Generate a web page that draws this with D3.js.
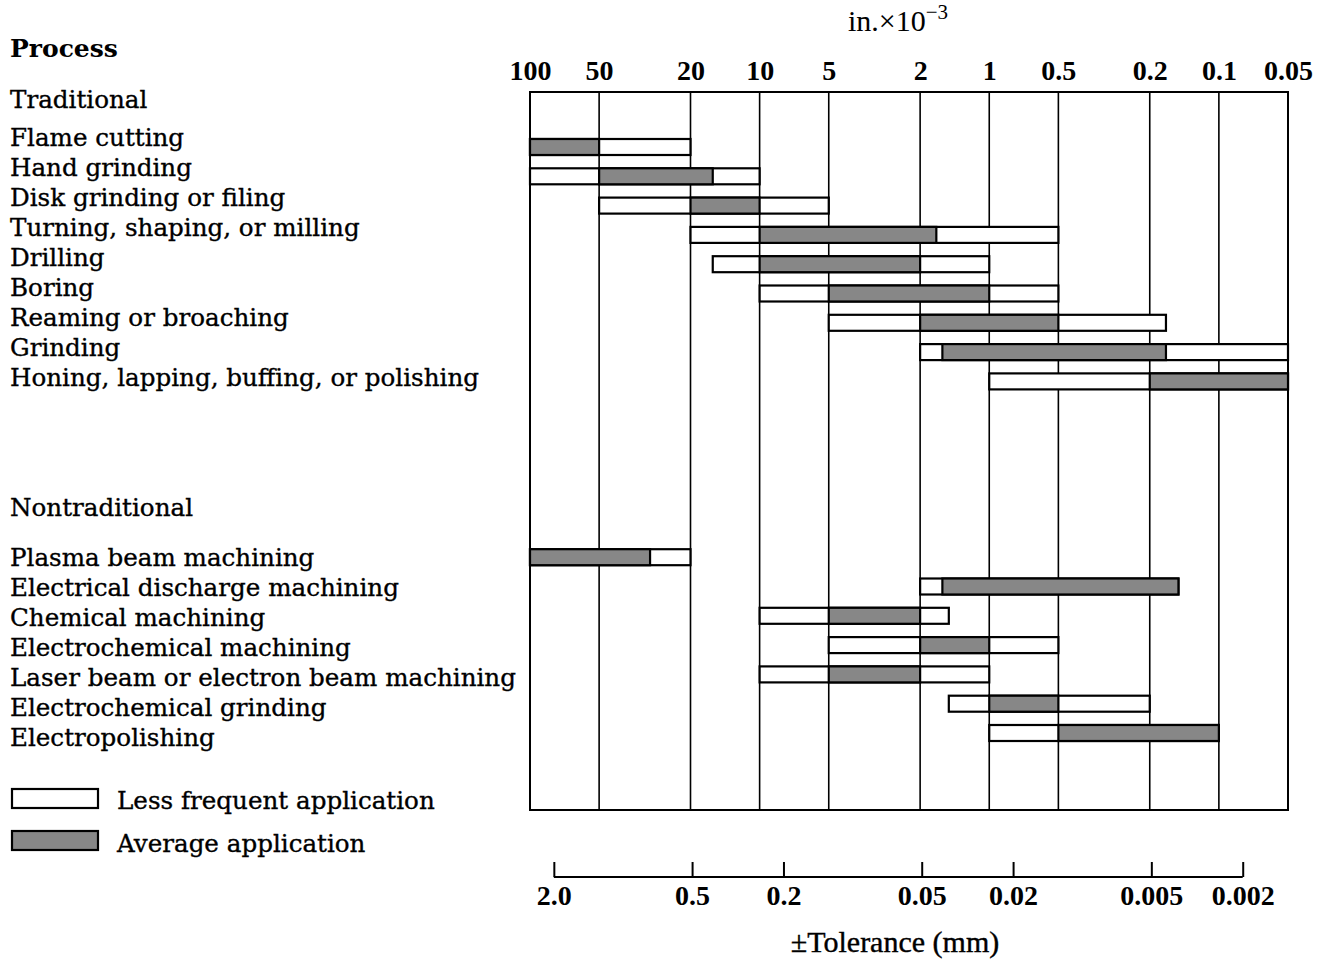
<!DOCTYPE html>
<html>
<head>
<meta charset="utf-8">
<script src="https://cdn.jsdelivr.net/npm/d3@7"></script>
<style>
  body { margin: 0; background: #fff; }
  svg { display: block; }
</style>
</head>
<body>
<svg id="chart" width="1330" height="961"></svg>
<script>
// process names, grouped
var PROCESSES = [
  "Flame cutting", "Hand grinding", "Disk grinding or filing",
  "Turning, shaping, or milling", "Drilling", "Boring",
  "Reaming or broaching", "Grinding", "Honing, lapping, buffing, or polishing",
  "Plasma beam machining", "Electrical discharge machining", "Chemical machining",
  "Electrochemical machining", "Laser beam or electron beam machining",
  "Electrochemical grinding", "Electropolishing"
];
var GROUPS = [
  "Traditional", "Traditional", "Traditional", "Traditional", "Traditional",
  "Traditional", "Traditional", "Traditional", "Traditional",
  "Nontraditional", "Nontraditional", "Nontraditional", "Nontraditional",
  "Nontraditional", "Nontraditional", "Nontraditional"
];

// tolerance, in. x 10^-3 (less frequent range and average range)
var RANGE_START = [100, 100, 50, 20, 16, 10, 5, 2, 1, 100, 2, 10, 5, 10, 1.5, 1];
var AVG_START   = [100, 50, 20, 10, 10, 5, 2, 1.6, 0.2, 100, 1.6, 5, 2, 5, 1, 0.5];
var AVG_END     = [50, 16, 10, 1.7, 2, 1, 0.5, 0.17, 0.05, 30, 0.15, 2, 1, 2, 0.5, 0.1];
var RANGE_END   = [20, 10, 5, 0.5, 1, 0.5, 0.17, 0.05, 0.05, 20, 0.15, 1.5, 0.5, 1, 0.2, 0.1];

var IN_TICKS = [100, 50, 20, 10, 5, 2, 1, 0.5, 0.2, 0.1, 0.05];
var IN_TICK_LABELS = ["100", "50", "20", "10", "5", "2", "1", "0.5", "0.2", "0.1", "0.05"];
var MM_TICKS = [2.0, 0.5, 0.2, 0.05, 0.02, 0.005, 0.002];
var MM_TICK_LABELS = ["2.0", "0.5", "0.2", "0.05", "0.02", "0.005", "0.002"];

var MM_PER_IN = 25.4;

var LABEL_FONT = "'DejaVu Serif', serif";
var AXIS_FONT = "'Liberation Serif', 'Times New Roman', serif";
var GRAY = "#878787";
var LABEL_SIZE = 24.6;

var PLOT_LEFT = 530, PLOT_RIGHT = 1288, PLOT_TOP = 92, PLOT_BOTTOM = 810;
var BAR_H = 16;
var NONTRAD_OFFSET = 5; // empty rows between the two groups

var svg = d3.select("#chart");

var x = d3.scaleLog()
  .domain([IN_TICKS[0], IN_TICKS[IN_TICKS.length - 1]])
  .range([PLOT_LEFT, PLOT_RIGHT]);

// same axis, expressed in mm (1e-3 in = 0.0254 mm)
var xmm = d3.scaleLog()
  .domain(x.domain().map(function(d) { return d * MM_PER_IN / 1000; }))
  .range(x.range());

var barY = d3.scaleLinear().domain([0, 20]).range([147, 733]);
var labelY = d3.scaleLinear().domain([0, 20]).range([146, 746]);

var rows = PROCESSES.map(function(name, i) {
  return {
    name: name,
    row: i + (GROUPS[i] === "Nontraditional" ? NONTRAD_OFFSET : 0),
    start: RANGE_START[i], avgStart: AVG_START[i],
    avgEnd: AVG_END[i], end: RANGE_END[i]
  };
});

// vertical grid lines
svg.append("g")
  .selectAll("line")
  .data(IN_TICKS)
  .join("line")
  .attr("x1", function(d) { return x(d); })
  .attr("x2", function(d) { return x(d); })
  .attr("y1", PLOT_TOP)
  .attr("y2", PLOT_BOTTOM)
  .attr("stroke", "#000")
  .attr("stroke-width", 1.6);

svg.append("rect")
  .attr("x", PLOT_LEFT).attr("y", PLOT_TOP)
  .attr("width", PLOT_RIGHT - PLOT_LEFT)
  .attr("height", PLOT_BOTTOM - PLOT_TOP)
  .attr("fill", "none")
  .attr("stroke", "#000")
  .attr("stroke-width", 2);

// bars: full range white, average range gray on top
var bars = svg.append("g").selectAll("g")
  .data(rows)
  .join("g");

bars.append("rect")
  .attr("x", function(d) { return x(d.start); })
  .attr("y", function(d) { return barY(d.row) - BAR_H / 2; })
  .attr("width", function(d) { return x(d.end) - x(d.start); })
  .attr("height", BAR_H)
  .attr("fill", "#fff")
  .attr("stroke", "#000")
  .attr("stroke-width", 2.2);

bars.append("rect")
  .attr("x", function(d) { return x(d.avgStart); })
  .attr("y", function(d) { return barY(d.row) - BAR_H / 2; })
  .attr("width", function(d) { return x(d.avgEnd) - x(d.avgStart); })
  .attr("height", BAR_H)
  .attr("fill", GRAY)
  .attr("stroke", "#000")
  .attr("stroke-width", 2.2);

// top axis (inches)
var topAxis = d3.axisTop(x)
  .tickValues(IN_TICKS)
  .tickSize(0)
  .tickPadding(12)
  .tickFormat(function(d, i) { return IN_TICK_LABELS[i]; });

var gTop = svg.append("g")
  .attr("transform", "translate(0," + PLOT_TOP + ")")
  .call(topAxis);
gTop.select(".domain").remove();
gTop.selectAll("text")
  .attr("font-family", AXIS_FONT)
  .attr("font-size", 28)
  .attr("font-weight", "bold")
  .attr("fill", "#000");

var topTitle = svg.append("text")
  .attr("x", 898).attr("y", 31)
  .attr("text-anchor", "middle")
  .attr("font-family", AXIS_FONT)
  .attr("font-size", 30)
  .attr("fill", "#000");
topTitle.append("tspan").text("in.\u00d710");
topTitle.append("tspan").attr("dy", -12).attr("font-size", 21).text("\u22123");

// bottom axis (mm)
var AXIS_Y = 877;
var bottomAxis = d3.axisBottom(xmm)
  .tickValues(MM_TICKS)
  .tickSizeInner(-15)
  .tickSizeOuter(0)
  .tickPadding(10)
  .tickFormat(function(d, i) { return MM_TICK_LABELS[i]; });

var gBottom = svg.append("g")
  .attr("transform", "translate(0," + AXIS_Y + ")")
  .call(bottomAxis);
gBottom.select(".domain").remove();
gBottom.append("line")
  .attr("x1", xmm(MM_TICKS[0]))
  .attr("x2", xmm(MM_TICKS[MM_TICKS.length - 1]))
  .attr("stroke", "#000")
  .attr("stroke-width", 2);
gBottom.selectAll(".tick line").attr("stroke", "#000").attr("stroke-width", 2);
gBottom.selectAll("text")
  .attr("y", 8)
  .attr("font-family", AXIS_FONT)
  .attr("font-size", 28)
  .attr("font-weight", "bold")
  .attr("fill", "#000");

svg.append("text")
  .attr("x", 895).attr("y", 952)
  .attr("text-anchor", "middle")
  .attr("font-family", AXIS_FONT)
  .attr("font-size", 30)
  .attr("fill", "#000")
  .attr("stroke", "#000")
  .attr("stroke-width", 0.4)
  .text("\u00b1Tolerance (mm)");

// left labels
svg.append("text")
  .attr("x", 10).attr("y", 57)
  .attr("font-family", LABEL_FONT)
  .attr("font-size", 25)
  .attr("font-weight", "bold")
  .text("Process");

var labelStyle = function(sel) {
  sel.attr("x", 10)
    .attr("font-family", LABEL_FONT)
    .attr("font-size", LABEL_SIZE)
    .attr("stroke", "#000")
    .attr("stroke-width", 0.35);
};

svg.append("g").selectAll("text")
  .data([["Traditional", -1.27], ["Nontraditional", 12.33]])
  .join("text")
  .call(labelStyle)
  .attr("y", function(d) { return labelY(d[1]); })
  .text(function(d) { return d[0]; });

svg.append("g").selectAll("text")
  .data(rows)
  .join("text")
  .call(labelStyle)
  .attr("y", function(d) { return labelY(d.row); })
  .text(function(d) { return d.name; });

// legend
var legend = svg.append("g");
var LEGEND_ITEMS = [["Less frequent application", "#fff"], ["Average application", GRAY]];
legend.selectAll("rect")
  .data(LEGEND_ITEMS)
  .join("rect")
  .attr("x", 12)
  .attr("y", function(d, i) { return 789 + i * 42; })
  .attr("width", 86)
  .attr("height", 19)
  .attr("fill", function(d) { return d[1]; })
  .attr("stroke", "#000")
  .attr("stroke-width", 2.2);
legend.selectAll("text")
  .data(LEGEND_ITEMS)
  .join("text")
  .call(labelStyle)
  .attr("x", 117)
  .attr("y", function(d, i) { return 809 + i * 43; })
  .text(function(d) { return d[0]; });
</script>
</body>
</html>
